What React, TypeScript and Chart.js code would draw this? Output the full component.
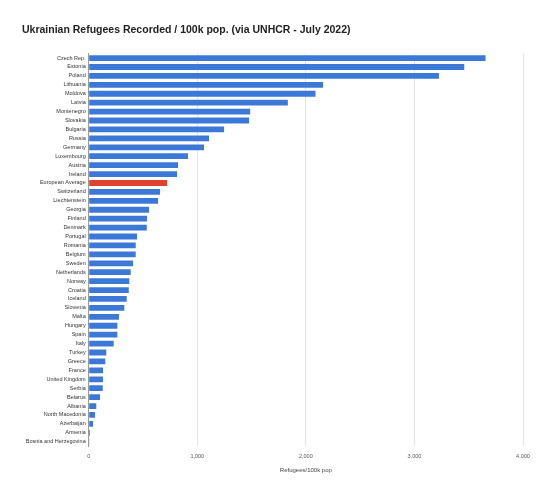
import { useEffect, useRef } from 'react';
import { Chart, registerables } from 'chart.js';

Chart.register(...registerables);

const countries = [
  'Czech Rep.', 'Estonia', 'Poland', 'Lithuania', 'Moldova', 'Latvia', 'Montenegro', 'Slovakia',
  'Bulgaria', 'Russia', 'Germany', 'Luxembourg', 'Austria', 'Ireland', 'European Average',
  'Switzerland', 'Liechtenstein', 'Georgia', 'Finland', 'Denmark', 'Portugal', 'Romania', 'Belgium',
  'Sweden', 'Netherlands', 'Norway', 'Croatia', 'Iceland', 'Slovenia', 'Malta', 'Hungary', 'Spain',
  'Italy', 'Turkey', 'Greece', 'France', 'United Kingdom', 'Serbia', 'Belarus', 'Albania',
  'North Macedonia', 'Azerbaijan', 'Armenia', 'Bosnia and Herzegovina',
];

const refugeesPer100k = [
  3655, 3459, 3226, 2159, 2089, 1834, 1487, 1477,
  1247, 1108, 1062, 915, 823, 814, 722,
  657, 639, 556, 537, 535, 445, 433, 433,
  408, 387, 374, 369, 350, 328, 279, 264, 264,
  230, 162, 153, 132, 132, 129, 104, 70,
  58, 40, 12, 3,
];

const xTicks = [0, 1000, 2000, 3000, 4000];

const BLUE = '#3c78d8';
const RED = '#e0402f';

export default function App() {
  const canvasRef = useRef<HTMLCanvasElement>(null);

  useEffect(() => {
    document.body.style.margin = '0';
    if (!canvasRef.current) return;

    const chart = new Chart(canvasRef.current, {
      type: 'bar',
      data: {
        labels: countries,
        datasets: [
          {
            data: refugeesPer100k,
            backgroundColor: countries.map((c) => (c === 'European Average' ? RED : BLUE)),
            barPercentage: 0.65,
            categoryPercentage: 1,
          },
        ],
      },
      options: {
        indexAxis: 'y',
        animation: false,
        responsive: true,
        maintainAspectRatio: false,
        layout: { padding: { left: 22, right: 17, top: 0, bottom: 23 } },
        plugins: {
          legend: { display: false },
          tooltip: { enabled: false },
          title: {
            display: true,
            text: 'Ukrainian Refugees Recorded / 100k pop. (via UNHCR - July 2022)',
            align: 'start',
            color: '#222',
            font: { family: 'Liberation Sans, Arial, sans-serif', size: 10.5, weight: 'bold' },
            padding: { top: 24, bottom: 17 },
          },
        },
        scales: {
          x: {
            min: 0,
            max: 4000,
            afterBuildTicks: (s) => {
              s.ticks = xTicks.map((v) => ({ value: v }));
            },
            ticks: {
              color: '#555',
              padding: 7,
              font: { family: 'Liberation Sans, Arial, sans-serif', size: 5.5 },
              callback: (v) => Number(v).toLocaleString('en-US'),
            },
            grid: { color: '#e4e4e4', drawTicks: false },
            border: { display: false },
            title: {
              display: true,
              text: 'Refugees/100k pop',
              color: '#444',
              font: { family: 'Liberation Sans, Arial, sans-serif', size: 6 },
              padding: { top: 0, bottom: 0 },
            },
          },
          y: {
            afterFit: (s) => {
              s.width = 66.7;
            },
            ticks: {
              autoSkip: false,
              color: '#333',
              padding: 3,
              font: { family: 'Liberation Sans, Arial, sans-serif', size: 5.5 },
            },
            grid: { display: false, drawTicks: false },
            border: { display: true, color: '#9a9a9a', width: 1 },
          },
        },
      },
    });

    return () => {
      chart.destroy();
    };
  }, []);

  return (
    <div style={{ position: 'relative', width: 540, height: 497, background: '#fff' }}>
      <canvas ref={canvasRef} />
    </div>
  );
}
